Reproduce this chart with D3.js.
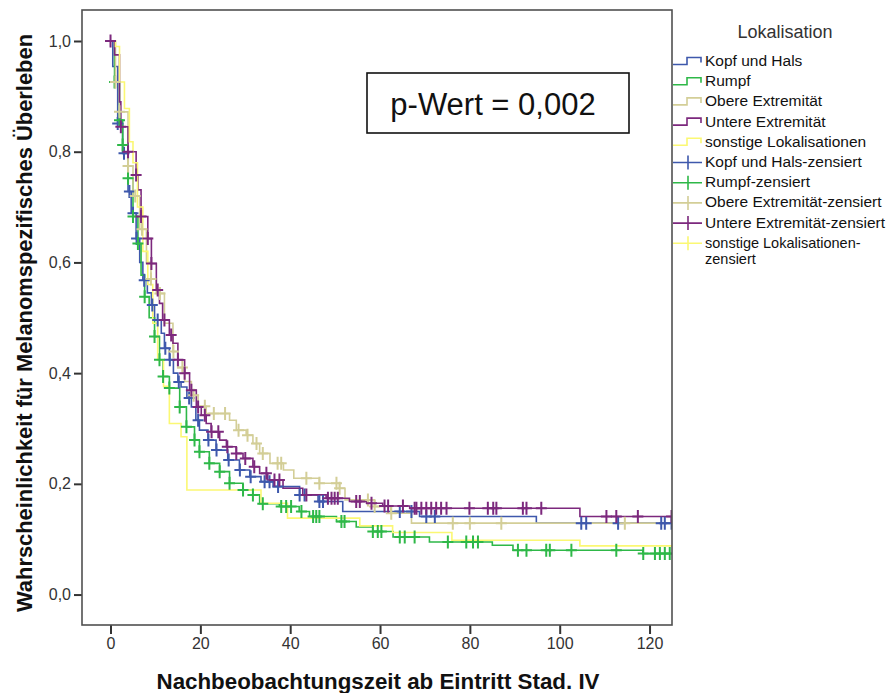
<!DOCTYPE html>
<html>
<head>
<meta charset="utf-8">
<script src="https://cdn.jsdelivr.net/npm/d3@7"></script>
<style>
  body { margin: 0; background: #fff; }
  svg text { font-family: Arial, "Liberation Sans", sans-serif; }
</style>
</head>
<body>
<div class="content"></div>
<script>
////////// data /////////
// series names (legend order)
var groups = ['Kopf und Hals', 'Rumpf', 'Obere Extremität', 'Untere Extremität', 'sonstige Lokalisationen'];
var colors = ['#3e58ac', '#2eb848', '#d3ce97', '#7c287d', '#fbf873'];

// KM steps: [time, survival after drop]
var kopfSteps = [[0.5,0.954],[1.6,0.851],[2.7,0.797],[3.9,0.728],[4.6,0.689],[5.7,0.643],[6.5,0.60],[7.2,0.568],
  [8.2,0.545],[9.1,0.523],[9.8,0.496],[11.3,0.472],[12,0.445],[13.1,0.424],[14,0.40],[15,0.384],[15.7,0.375],
  [17,0.355],[18,0.339],[19,0.315],[19.8,0.297],[21.7,0.279],[23.5,0.261],[26.1,0.243],[28.7,0.225],[31,0.213],
  [33.5,0.204],[36.2,0.195],[42.1,0.180],[46.2,0.168],[51.7,0.150],[68.8,0.141],[94.8,0.129]];
var rumpfSteps = [[0.9,0.926],[2,0.857],[2.7,0.812],[3.9,0.752],[5,0.683],[6.1,0.634],[6.8,0.577],[7.6,0.538],
  [8.6,0.50],[9.8,0.466],[10.9,0.424],[11.7,0.394],[13.1,0.373],[15.4,0.339],[16.9,0.303],[18.7,0.279],[19.8,0.258],
  [22,0.237],[24.3,0.222],[26.5,0.201],[29.5,0.189],[31.7,0.18],[33.2,0.164],[37.6,0.159],[42,0.150],[44.3,0.141],
  [50.3,0.132],[54.7,0.122],[58.4,0.114],[62.9,0.104],[71,0.095],[85,0.089],[89.6,0.080],[118.5,0.074]];
var obereSteps = [[1.1,0.926],[2,0.872],[3.9,0.774],[5,0.72],[6.5,0.66],[8,0.60],[9,0.57],[10.2,0.544],[12,0.49],
  [13.9,0.439],[15,0.41],[16.5,0.385],[18,0.36],[19.5,0.34],[21.3,0.327],[26.5,0.315],[28,0.297],[30.2,0.288],
  [31.7,0.273],[33.2,0.255],[35.5,0.237],[38.5,0.225],[40.8,0.21],[46.5,0.201],[51,0.192],[52.2,0.171],
  [58.8,0.159],[62.4,0.147],[67,0.129]];
var untereSteps = [[0.9,0.975],[2,0.89],[2.3,0.845],[3.9,0.80],[5.7,0.758],[6.1,0.731],[6.8,0.683],[8.3,0.643],
  [9.1,0.598],[10.2,0.55],[10.9,0.526],[11.6,0.496],[13.1,0.469],[13.9,0.454],[15,0.424],[16.5,0.40],[17.6,0.369],
  [19.1,0.339],[20.2,0.324],[21.3,0.309],[22.4,0.294],[24.3,0.279],[25.8,0.267],[28,0.255],[29.5,0.246],
  [31.7,0.231],[33.2,0.219],[35,0.207],[38.4,0.192],[42.8,0.18],[48,0.174],[53.2,0.168],[57,0.165],[60.6,0.160],
  [66.6,0.156],[104.5,0.141]];
var sonstigeSteps = [[1.1,0.99],[2,0.926],[3.1,0.878],[4.2,0.818],[5,0.78],[6,0.70],[7.2,0.62],[8.3,0.56],
  [9.4,0.49],[10.5,0.424],[11.8,0.376],[13.1,0.309],[15.7,0.285],[17,0.189],[33.5,0.165],[39.4,0.138],
  [55.5,0.124],[62.8,0.112],[76,0.098],[104.5,0.088]];

// censored times
var kopfCens = [1.6,3.0,4.2,5.0,5.8,7.5,9.3,10.5,12.2,13.2,15.2,17.5,19.5,21.8,23.6,26.3,28.8,31.2,34.3,35.4,37.3,
  42.1,43.2,46.5,47.3,64.4,67.0,70.3,72.2,104.8,105.9,113.0,122.6,123.4,124.9];
var rumpfCens = [0.9,2.0,2.7,3.9,5.0,6.1,7.6,9.8,10.9,11.7,13.1,15.4,16.9,18.7,19.8,22,24.3,26.5,29.5,31.7,33.9,
  38,39.1,40.2,42.5,45.1,45.8,46.5,51.4,52.1,58.4,59.5,60.3,64.4,65.5,67.7,75.1,79.2,80.7,81.8,90.7,92.6,97.0,
  97.8,102.6,112.6,118.6,121.2,122.3,123.4,124.5];
var obereCens = [1.1,2.0,3.9,5.5,7,9,11,14,16,18.5,21,23,25.5,28.5,30.5,32.5,33.9,37.2,38,43.6,46.5,50.3,51,
  57.3,58.8,62.5,76.2,80.0,87.0,114.5];
var untereCens = [0,2.3,3.9,5.7,6.8,8.3,9.1,10.5,12,13.5,15,16.5,18,19.5,21,22.5,24,26,28,30,32,34.7,36.5,37.6,
  43.6,48.4,49.2,49.9,50.6,54.7,55.5,58.1,61.0,61.8,65.1,67.7,68.1,69.2,70.3,71.4,72.5,73.6,74.8,79.9,84.0,85.2,
  85.9,91.8,92.6,95.9,110.4,112.6,117.4,124.9];
var sonstigeCens = [];

var xTicks = [0, 20, 40, 60, 80, 100, 120];
var yTicks = [0, 0.2, 0.4, 0.6, 0.8, 1.0];
var legendLabels = ['Kopf und Hals', 'Rumpf', 'Obere Extremität', 'Untere Extremität', 'sonstige Lokalisationen',
  'Kopf und Hals-zensiert', 'Rumpf-zensiert', 'Obere Extremität-zensiert', 'Untere Extremität-zensiert',
  'sonstige Lokalisationen-|zensiert'];

var allSteps = [kopfSteps, rumpfSteps, obereSteps, untereSteps, sonstigeSteps];
var allCens = [kopfCens, rumpfCens, obereCens, untereCens, sonstigeCens];

////////// svg /////////
var svg = d3.select('.content').append('svg')
  .attr('width', 895)
  .attr('height', 693);

var x = d3.scaleLinear().domain([-6.35, 125]).range([82, 672]);
var y = d3.scaleLinear().domain([-0.055, 1.056]).range([625, 10]);

svg.append('clipPath').attr('id', 'plotclip')
  .append('rect')
  .attr('x', 82).attr('y', 10)
  .attr('width', 590).attr('height', 615);

// axes
var yAxis = d3.axisLeft(y).tickValues(yTicks).tickSize(8).tickPadding(3)
  .tickFormat(function(d) { return d3.format('.1f')(d).replace('.', ','); });
var xAxis = d3.axisBottom(x).tickValues(xTicks).tickSize(9).tickPadding(4);

var gy = svg.append('g').attr('transform', 'translate(82,0)').call(yAxis);
var gx = svg.append('g').attr('transform', 'translate(0,625)').call(xAxis);
[gy, gx].forEach(function(g) {
  g.select('.domain').remove();
  g.selectAll('line').attr('stroke', '#333').attr('stroke-width', 2);
  g.selectAll('text').attr('font-size', 16).attr('fill', '#333')
    .style('font-family', 'Arial, "Liberation Sans", sans-serif');
});

// curves
var plot = svg.append('g').attr('clip-path', 'url(#plotclip)');
var line = d3.line()
  .x(function(d) { return x(d[0]); })
  .y(function(d) { return y(d[1]); })
  .curve(d3.curveStepAfter);

function survAt(steps, t) {
  var s = 1;
  steps.forEach(function(p) { if (p[0] <= t) s = p[1]; });
  return s;
}

allSteps.forEach(function(steps, i) {
  var pts = [[0, 1]].concat(steps);
  pts.push([126, steps[steps.length - 1][1]]);
  plot.append('path')
    .attr('d', line(pts))
    .attr('fill', 'none')
    .attr('stroke', colors[i])
    .attr('stroke-width', 1.6);
});

allCens.forEach(function(cens, i) {
  plot.selectAll('.cens' + i)
    .data(cens)
    .enter().append('path')
    .attr('class', 'cens' + i)
    .attr('d', function(t) {
      var cx = x(t), cy = y(survAt(allSteps[i], t));
      return 'M' + (cx - 5.5) + ',' + cy + 'H' + (cx + 5.5) + 'M' + cx + ',' + (cy - 6.5) + 'V' + (cy + 6.5);
    })
    .attr('fill', 'none')
    .attr('stroke', colors[i])
    .attr('stroke-width', 2);
});

// frame
svg.append('rect')
  .attr('x', 82).attr('y', 10)
  .attr('width', 590).attr('height', 615)
  .attr('fill', 'none')
  .attr('stroke', '#505050')
  .attr('stroke-width', 1.6);

// axis titles
svg.append('text')
  .attr('x', 378).attr('y', 689)
  .attr('text-anchor', 'middle')
  .attr('font-size', 22).attr('font-weight', 'bold').attr('fill', '#111')
  .attr('textLength', 443).attr('lengthAdjust', 'spacingAndGlyphs')
  .text('Nachbeobachtungszeit ab Eintritt Stad. IV');

svg.append('text')
  .attr('transform', 'translate(32,323) rotate(-90)')
  .attr('text-anchor', 'middle')
  .attr('font-size', 22).attr('font-weight', 'bold').attr('fill', '#111')
  .attr('textLength', 578).attr('lengthAdjust', 'spacingAndGlyphs')
  .text('Wahrscheinlichkeit für Melanomspezifisches Überleben');

// p-value box
svg.append('rect')
  .attr('x', 367).attr('y', 73)
  .attr('width', 262).attr('height', 60)
  .attr('fill', '#fff')
  .attr('stroke', '#111')
  .attr('stroke-width', 1.6);
svg.append('text')
  .attr('x', 493).attr('y', 115)
  .attr('text-anchor', 'middle')
  .attr('font-size', 31).attr('fill', '#111')
  .text('p-Wert = 0,002');

////////// legend /////////
var legend = svg.append('g');
legend.append('text')
  .attr('x', 785).attr('y', 38)
  .attr('text-anchor', 'middle')
  .attr('font-size', 18).attr('fill', '#333')
  .text('Lokalisation');

legendLabels.forEach(function(lab, i) {
  var ly = 61.5 + i * 20.2;
  var c = colors[i % 5];
  if (i < 5) {
    legend.append('path')
      .attr('d', 'M673,' + (ly + 3) + 'H687V' + (ly - 4) + 'H701V' + (ly + 1))
      .attr('fill', 'none').attr('stroke', c).attr('stroke-width', 1.6);
  } else {
    legend.append('path')
      .attr('d', 'M673,' + ly + 'H702M688,' + (ly - 7) + 'V' + (ly + 7))
      .attr('fill', 'none').attr('stroke', c).attr('stroke-width', 1.6);
  }
  // two-line label: a bit tighter font so lines don't collide
  var parts = lab.split('|');
  var fs = parts.length > 1 ? 14.5 : 15.5;
  parts.forEach(function(p, j) {
    legend.append('text')
      .attr('x', 705).attr('y', ly + 4.5 + j * 16.5)
      .attr('font-size', fs).attr('fill', '#111')
      .text(p);
  });
});
</script>
</body>
</html>
